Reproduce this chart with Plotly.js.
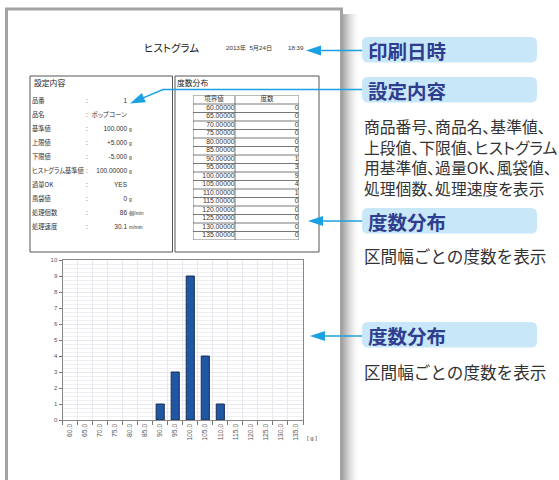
<!DOCTYPE html>
<html><head><meta charset="utf-8">
<script src="https://cdn.plot.ly/plotly-3.0.1.min.js"></script>
<style>
html,body{margin:0;padding:0;background:#fff;}
#chart{width:559px;height:480px;}
svg text{font-feature-settings:"palt" 1;}
</style></head><body><div id="chart"></div>
<script>
// ---------- data ----------
const binLabels=['60.0','65.0','70.0','75.0','80.0','85.0','90.0','95.0','100.0','105.0','110.0','115.0','120.0','125.0','130.0','135.0'];
const boundaryValues=['60.00000','65.00000','70.00000','75.00000','80.00000','85.00000','90.00000','95.00000','100.00000','105.00000','110.00000','115.00000','120.00000','125.00000','130.00000','135.00000'];
const counts=[0,0,0,0,0,0,1,3,9,4,1,0,0,0,0,0];
const tableHeaders=['境界値','度数'];
const settingLabels=['品番','品名','基準値','上限値','下限値','ヒストグラム基準値','過量OK','風袋値','処理個数','処理速度'];
const settingValues=['1','ポップコーン','100.000','+5.000','-5.000','100.00000','YES','0','86','30.1'];
const settingUnits=['','','g','g','g','g','','g','個/min','m/min'];
const pageTitle='ヒストグラム';
const printDate='2013年  5月24日';
const printTime='18:39';
const settingsHeader='設定内容';
const distHeader='度数分布';
const unitLabel='[ g ]';
const calloutTitles=['印刷日時','設定内容','度数分布','度数分布'];
const calloutNotes=[[],['商品番号、商品名、基準値、','上段値、下限値、ヒストグラム','用基準値、過量OK、風袋値、','処理個数、処理速度を表示'],['区間幅ごとの度数を表示'],['区間幅ごとの度数を表示']];

// ---------- helpers ----------
const W=559,H=480;
const px=x=>x/W, py=y=>1-y/H;
const CJK='"Noto Sans CJK JP", sans-serif';
const SANS='"Liberation Sans", "Noto Sans CJK JP", sans-serif';
const BLUE='#1ba1e2';
const shapes=[], annotations=[];
function prect(x0,y0,x1,y1,o){shapes.push(Object.assign({type:'rect',xref:'paper',yref:'paper',x0:px(x0),x1:px(x1),y0:py(y0),y1:py(y1),layer:'above'},o));}
function ppath(pts,o,close){let d='M'+pts.map(p=>px(p[0])+','+py(p[1])).join(' L');if(close)d+=' Z';shapes.push(Object.assign({type:'path',xref:'paper',yref:'paper',path:d,layer:'above'},o));}
function roundRect(x0,y0,x1,y1,r,o){
  const P=(x,y)=>px(x)+','+py(y);
  const d='M'+P(x0+r,y0)+' L'+P(x1-r,y0)+' Q'+P(x1,y0)+' '+P(x1,y0+r)+' L'+P(x1,y1-r)+' Q'+P(x1,y1)+' '+P(x1-r,y1)+
    ' L'+P(x0+r,y1)+' Q'+P(x0,y1)+' '+P(x0,y1-r)+' L'+P(x0,y0+r)+' Q'+P(x0,y0)+' '+P(x0+r,y0)+' Z';
  shapes.push(Object.assign({type:'path',xref:'paper',yref:'paper',path:d,layer:'above'},o));
}
function note(text,x,y,size,color,family,extra){annotations.push(Object.assign({xref:'paper',yref:'paper',x:px(x),y:py(y),text:text,showarrow:false,xanchor:'left',yanchor:'middle',align:'left',font:{size:size,color:color,family:family}},extra||{}));}
function arrow(tip,from,len,half){
  const dx=from[0]-tip[0],dy=from[1]-tip[1],L=Math.hypot(dx,dy);const ux=dx/L,uy=dy/L;
  const bx=tip[0]+ux*len,by=tip[1]+uy*len;
  ppath([tip,[bx-uy*half,by+ux*half],[bx+uy*half,by-ux*half]],{fillcolor:BLUE,line:{width:0}},true);
}

// ---------- page ----------
for(let i=0;i<16;i++){
  const a=0.32*Math.pow(1-i/16,1.6);
  prect(343+i,14,344+i,480,{fillcolor:'rgba(0,0,0,'+a.toFixed(3)+')',line:{width:0},layer:'below'});
}
prect(6.5,9,341.5,495,{fillcolor:'#ffffff',line:{color:'#a3a3a3',width:3},layer:'below'});
prect(30,76,172.5,252,{line:{color:'#555',width:1},fillcolor:'rgba(0,0,0,0)'});
prect(175,76,319,252,{line:{color:'#555',width:1},fillcolor:'rgba(0,0,0,0)'});

note(pageTitle,142,47.5,10.5,'#222',CJK);
note(printDate,224,47.5,6.2,'#333',SANS);
note(printTime,286,47.5,6.2,'#333',SANS);
note(settingsHeader,31.5,83,7.8,'#222',CJK);
note(distHeader,174.5,83,7.8,'#222',CJK);
note(unitLabel,305,438,6,'#444',SANS);

// ---------- callouts ----------
const boxTops=[37,77,208,322];
const noteTops=[0,112.5,241.5,357.5];
const noteSizes=[15.8,15.8,16.6,16.6];
boxTops.forEach((t,i)=>{
  roundRect(362,t,537,t+25.5,6,{fillcolor:'#c8e7f8',line:{width:0}});
  note(calloutTitles[i],366,t+13.3,19.5,'#2f3d8e',CJK,{font:{size:19.5,color:'#2f3d8e',family:CJK,weight:'bold'}});
  if(calloutNotes[i].length){
    let s=calloutNotes[i].join('<br>');
    if(i>=2) s='<span style="font-feature-settings:normal">'+s+'</span>';
    note(s,362,noteTops[i],noteSizes[i],'#333',CJK,{yanchor:'top'});
  }
});
// arrows
const lineStyle={line:{color:BLUE,width:1.5}};
ppath([[320,50.5],[362,50.5]],lineStyle);arrow([306,50.5],[362,50.5],15,5);
ppath([[362,89.5],[163,89.5],[142,98.4]],lineStyle);arrow([130,103.4],[163,89.5],15,5);
ppath([[322,221],[362,221]],lineStyle);arrow([308,221],[362,221],15,5);
ppath([[324,336],[362,336]],lineStyle);arrow([310,336],[362,336],15,5);

// ---------- frequency table (x2/y2) ----------
const TX0=193,TXM=235,TX1=299;
for(let k=0;k<=boundaryValues.length+1;k++){
  shapes.push({type:'line',xref:'x2',yref:'y2',x0:TX0,x1:TX1,y0:k-0.5,y1:k-0.5,line:{color:'#555',width:0.8}});
}
[TX0,TXM,TX1].forEach(x=>shapes.push({type:'line',xref:'x2',yref:'y2',x0:x,x1:x,y0:-0.5,y1:boundaryValues.length+0.5,line:{color:'#555',width:0.8}}));
const rowIdx=boundaryValues.map((_,i)=>i+1);
const traces=[];
const txt=(x,y,text,pos,size,xa,ya,family)=>({type:'scatter',mode:'text',x:x,y:y,text:text,textposition:pos,
  textfont:{size:size,color:'#333',family:family||SANS},xaxis:xa,yaxis:ya,cliponaxis:false,hoverinfo:'skip',showlegend:false});
traces.push(txt([(TX0+TXM)/2,(TXM+TX1)/2],[0,0],tableHeaders,'middle center',6.5,'x2','y2',CJK));
traces.push(txt(rowIdx.map(()=>TXM-0.5),rowIdx,boundaryValues,'middle left',6.8,'x2','y2'));
traces.push(txt(rowIdx.map(()=>TX1-0.5),rowIdx,counts.map(String),'middle left',6.8,'x2','y2'));

// ---------- settings list (x3/y3) ----------
const sIdx=settingLabels.map((_,i)=>i);
traces.push(txt(sIdx.map(()=>32),sIdx,settingLabels,'middle right',6.3,'x3','y3',CJK));
traces.push(txt(sIdx.map(()=>87),sIdx,sIdx.map(()=>':'),'middle center',6.5,'x3','y3'));
traces.push(txt(sIdx.map(()=>127),sIdx,settingValues,'middle left',6.5,'x3','y3'));
traces.push(txt(sIdx.map(()=>129),sIdx,settingUnits,'middle right',5,'x3','y3'));

// ---------- histogram ----------
traces.unshift({type:'bar',x:binLabels,y:counts,
  marker:{color:'#1f57a3',line:{color:'#1b2d58',width:counts.map(c=>c>0?1:0)}},hoverinfo:'x+y',showlegend:false});

const layout={
  width:W,height:H,margin:{l:0,r:0,t:0,b:0},paper_bgcolor:'#ffffff',plot_bgcolor:'#f4f4f7',
  font:{family:CJK},showlegend:false,bargap:0.46,
  xaxis:{domain:[px(62.5),px(303)],type:'category',range:[-0.5,15.5],tickson:'boundaries',ticks:'outside',ticklen:4,tickcolor:'#777',
    tickangle:-90,tickfont:{size:6.8,color:'#555',family:SANS},showline:true,linecolor:'#888',mirror:true,showgrid:true,gridcolor:'#e8e8ee',fixedrange:true},
  yaxis:{domain:[py(420),py(260)],range:[0,10],dtick:1,ticks:'outside',ticklen:3,tickcolor:'#777',tickfont:{size:6,color:'#555',family:SANS},
    showline:true,linecolor:'#888',mirror:true,showgrid:true,gridcolor:'#e8e8ee',zeroline:false,
    minor:{dtick:0.25,showgrid:true,gridcolor:'#efeff3'},fixedrange:true},
  xaxis2:{domain:[px(TX0),px(TX1)],range:[TX0,TX1],visible:false,anchor:'y2',fixedrange:true},
  yaxis2:{domain:[py(240),py(95.5)],range:[boundaryValues.length+0.5,-0.5],visible:false,anchor:'x2',fixedrange:true},
  xaxis3:{domain:[px(30),px(172)],range:[30,172],visible:false,anchor:'y3',fixedrange:true},
  yaxis3:{domain:[py(234.5),py(94.5)],range:[settingLabels.length-0.5,-0.5],visible:false,anchor:'x3',fixedrange:true},
  shapes:shapes,annotations:annotations
};
Plotly.newPlot('chart',traces,layout,{displayModeBar:false,staticPlot:true});
</script></body></html>
